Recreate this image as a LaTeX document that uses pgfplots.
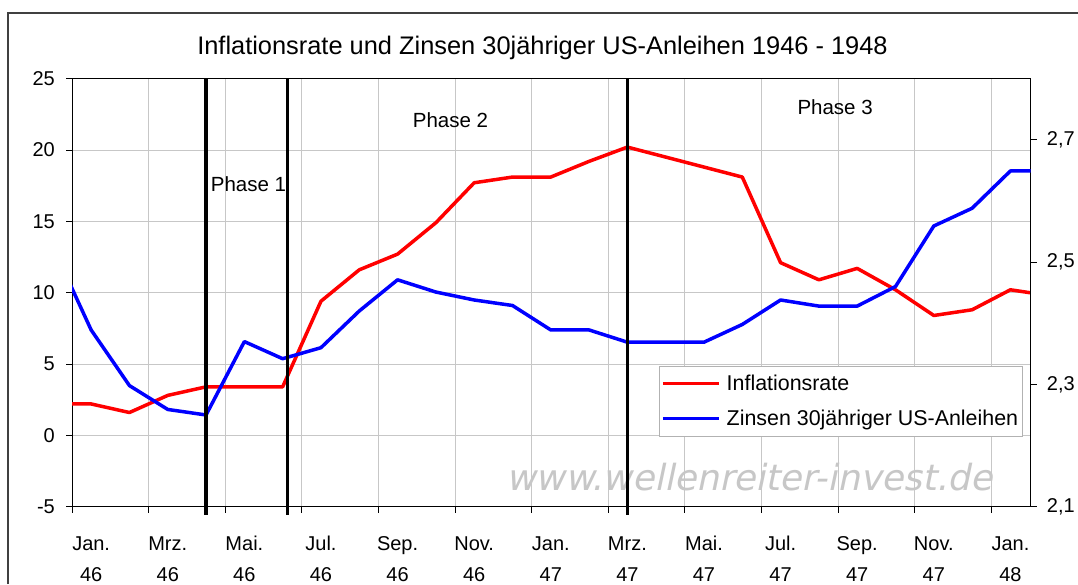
\documentclass[border=0pt]{standalone}
\usepackage{pgfplots}
\pgfplotsset{compat=1.18}
\usepackage{fontspec}
\setmainfont{Liberation Sans}
\newfontfamily\wmfont{DejaVu Sans}
\pgfplotstableread{
x y
-1 2.2
0 2.2
1 1.6
2 2.8
3 3.4
4 3.4
5 3.4
6 9.4
7 11.6
8 12.7
9 14.9
10 17.7
11 18.1
12 18.1
13 19.2
14 20.2
15 19.5
16 18.8
17 18.1
18 12.1
19 10.9
20 11.7
21 10.2
22 8.4
23 8.8
24 10.2
25 9.8
}\inflation
\pgfplotstableread{
x y
-1 2.525
0 2.389
1 2.298
2 2.259
3 2.250
4 2.370
5 2.342
6 2.360
7 2.420
8 2.471
9 2.451
10 2.438
11 2.429
12 2.389
13 2.389
14 2.369
15 2.369
16 2.369
17 2.398
18 2.438
19 2.428
20 2.428
21 2.460
22 2.559
23 2.588
24 2.649
25 2.649
}\zinsen
\begin{document}
\begin{tikzpicture}
\path[use as bounding box] (0pt,0pt) rectangle (1078pt,584pt);
\fill[white] (0pt,0pt) rectangle (1078pt,584pt);
\draw[line width=1.2pt, black!75] (8pt,0pt) -- (8pt,571pt) -- (1078pt,571pt);
\node[anchor=base, inner sep=0pt, font=\fontsize{25.4}{30}\selectfont] at (542.5pt,529pt) {Inflationsrate und Zinsen 30jähriger US-Anleihen 1946 - 1948};
\node[anchor=base west, inner sep=0pt, xslant=0.21, transform shape, font=\wmfont\fontsize{36}{40}\selectfont, text=black!22] at (506pt,94pt) {www.wellenreiter-invest.de};
\begin{axis}[
  at={(72pt,77.3pt)}, anchor=south west, scale only axis,
  width=958.7pt, height=428.1pt,
  xmin=-0.5, xmax=24.53, ymin=-5, ymax=25,
  ytick={-5,0,...,25},
  xtick={-0.5,1.5,...,23.5}, xticklabels={},
  extra x ticks={0,2,...,24},
  extra x tick labels={{Jan.\\46},{Mrz.\\46},{Mai.\\46},{Jul.\\46},{Sep.\\46},{Nov.\\46},{Jan.\\47},{Mrz.\\47},{Mai.\\47},{Jul.\\47},{Sep.\\47},{Nov.\\47},{Jan.\\48}},
  extra x tick style={major tick length=0pt, grid=none,
    xticklabel style={align=center, anchor=north, inner sep=0pt, text height=14.5pt, yshift=-60pt}},
  tick align=outside, xtick pos=bottom, ytick pos=left,
  major tick length=6pt,
  xmajorgrids, ymajorgrids,
  grid style={black!22, line width=0.9pt},
  axis line style={line width=1pt},
  tick style={black, line width=0.9pt},
  clip mode=individual,
  /pgf/number format/assume math mode=true,
  tick label style={font=\fontsize{20}{31}\selectfont},
  yticklabel style={anchor=east, inner sep=0pt, xshift=-11pt},
]
\addplot[red, line width=3.5pt, line join=round] table[x=x,y=y] {\inflation};
\end{axis}
\begin{axis}[
  at={(72pt,77.3pt)}, anchor=south west, scale only axis,
  width=958.7pt, height=428.1pt,
  xmin=-0.5, xmax=24.53, ymin=2.1, ymax=2.8,
  axis x line=none, axis y line*=right,
  ytick={2.1,2.3,2.5,2.7},
  tick align=outside, major tick length=6pt,
  axis line style={line width=1pt},
  tick style={black, line width=0.9pt},
  clip mode=individual,
  /pgf/number format/assume math mode=true,
  tick label style={font=\fontsize{20}{31}\selectfont},
  yticklabel style={/pgf/number format/.cd, fixed, fixed zerofill, precision=1, use comma, /tikz/.cd, anchor=west, inner sep=0pt, xshift=10pt},
  legend style={at={(0.6123,0.3287)}, anchor=north west, draw=black!30, fill=white,
    font=\fontsize{21.4}{24}\selectfont, inner xsep=2pt, inner ysep=7pt, row sep=14pt,
    cells={anchor=west}},
  legend image code/.code={\draw[#1, line width=3.5pt] (2pt,0pt) -- (58pt,0pt); \path (62pt,0pt);},
]
\addlegendimage{red, line width=3.5pt}
\addlegendentry{Inflationsrate}
\addplot[blue, line width=3.5pt, line join=round] table[x=x,y=y] {\zinsen};
\addlegendentry{Zinsen 30jähriger US-Anleihen}
\draw[line width=3.5pt] (axis cs:3,2.8) -- (axis cs:3,2.086);
\draw[line width=3.5pt] (axis cs:5.13,2.8) -- (axis cs:5.13,2.086);
\draw[line width=3.5pt] (axis cs:14,2.8) -- (axis cs:14,2.086);
\end{axis}
\node[anchor=base west, inner sep=0pt, font=\fontsize{20.5}{24}\selectfont] at (210.7pt,392.3pt) {Phase 1};
\node[anchor=base west, inner sep=0pt, font=\fontsize{20.5}{24}\selectfont] at (412.7pt,456.7pt) {Phase 2};
\node[anchor=base west, inner sep=0pt, font=\fontsize{20.5}{24}\selectfont] at (797.3pt,469pt) {Phase 3};
\end{tikzpicture}
\end{document}
